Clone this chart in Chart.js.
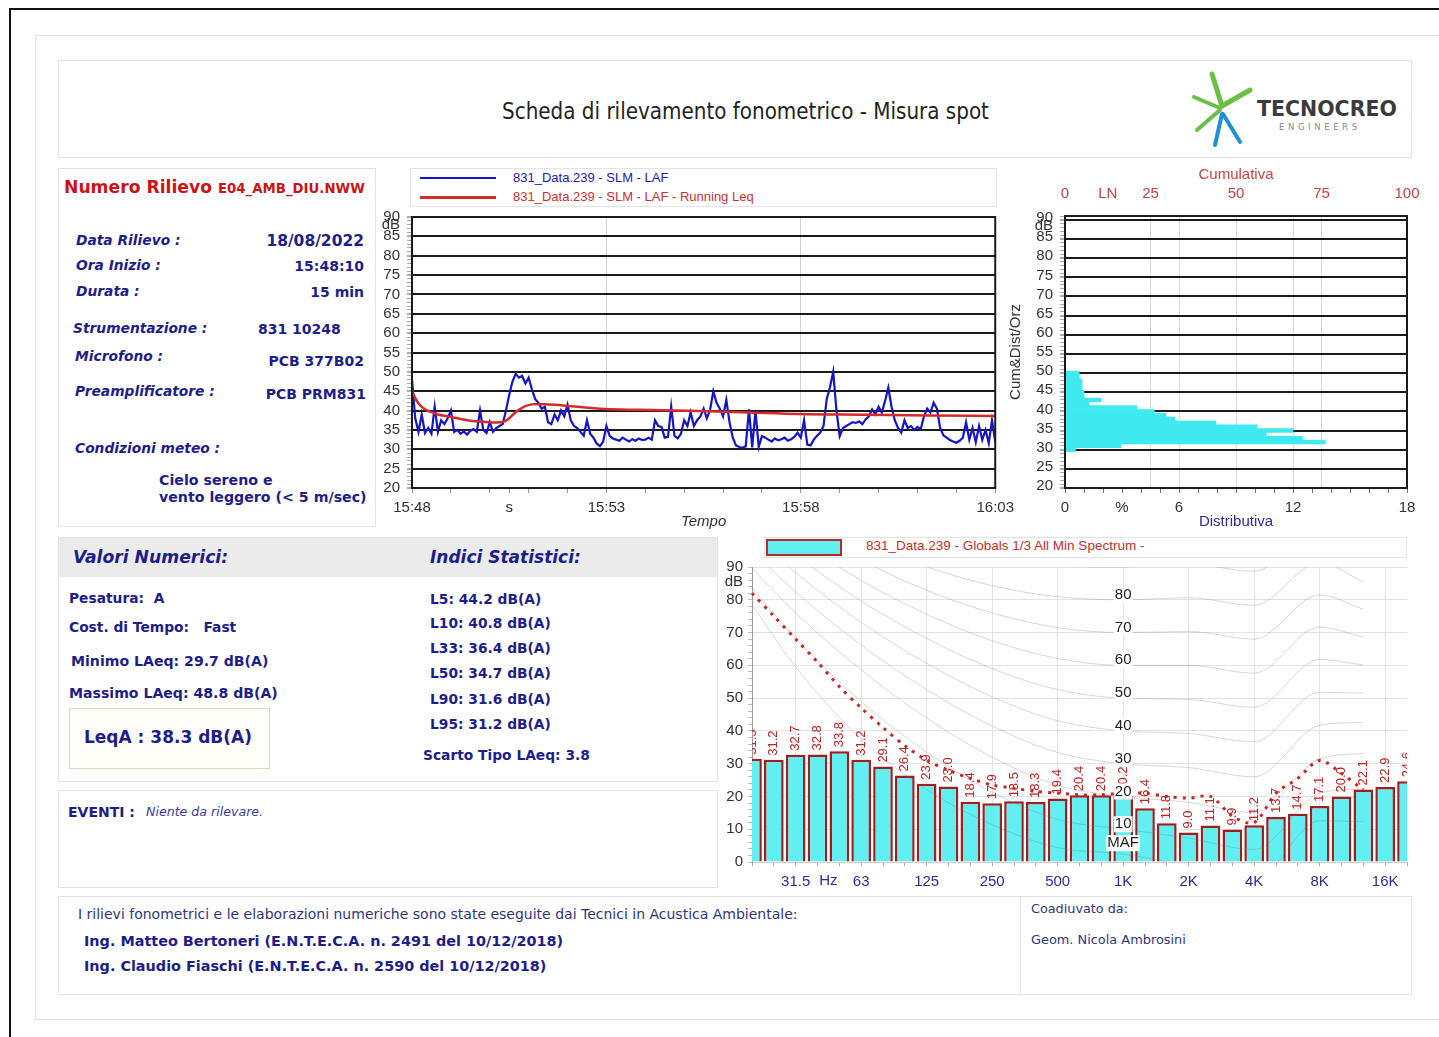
<!DOCTYPE html>
<html lang="it">
<head>
<meta charset="utf-8">
<title>Scheda di rilevamento fonometrico - Misura spot</title>
<script src="https://cdn.jsdelivr.net/npm/chart.js@4.4.1/dist/chart.umd.min.js"></script>
<style>
  body { margin: 0; background: #fff; }
  #sheet { position: relative; width: 1439px; height: 1037px; overflow: hidden; background: #fff;
           font-family: "DejaVu Sans", Verdana, sans-serif; color: #1d1d8c; }
  #sheet div { position: absolute; }
  .panel { border: 1px solid #e3e3e3; box-sizing: border-box; }
  .t { white-space: pre; line-height: 1; }
  .lbl { font-weight: bold; font-style: italic; font-size: 13.8px; }
  .val { font-weight: bold; font-size: 14px; }
  .item { font-weight: bold; font-size: 13.8px; }
  .chartText { font-family: "Liberation Sans", Arial, sans-serif; }
</style>
</head>
<body>
<div id="sheet">
  <!-- page frame -->
  <div style="left:10px;top:8px;width:1429px;height:2px;background:#111"></div>
  <div style="left:9px;top:8px;width:2px;height:1029px;background:#111"></div>
  <div class="panel" style="left:35px;top:35px;width:1410px;height:985px"></div>

  <!-- header -->
  <div class="panel" style="left:58px;top:60px;width:1354px;height:98px"></div>
  <div class="t" style="left:502px;top:100px;font-family:'DejaVu Sans Condensed','DejaVu Sans',sans-serif;font-size:22.2px;color:#222">Scheda di rilevamento fonometrico - Misura spot</div>
  <svg style="position:absolute;left:1188px;top:70px" width="66" height="80" viewBox="0 0 66 80">
    <g stroke-linecap="round" fill="none">
      <line x1="34" y1="36" x2="24" y2="4" stroke="#6cbf45" stroke-width="5"/>
      <line x1="34" y1="36" x2="62" y2="20" stroke="#6cbf45" stroke-width="5"/>
      <line x1="32" y1="38" x2="6" y2="27" stroke="#6cbf45" stroke-width="4"/>
      <line x1="32" y1="40" x2="9" y2="60" stroke="#6cbf45" stroke-width="4"/>
      <line x1="34" y1="44" x2="27" y2="75" stroke="#1f8fd8" stroke-width="4"/>
      <line x1="35" y1="44" x2="52" y2="72" stroke="#1f8fd8" stroke-width="4"/>
    </g>
  </svg>
  <div class="t" style="left:1257px;top:99px;font-weight:bold;font-size:20.5px;color:#3b3b3b">TECNOCREO</div>
  <div class="t" style="left:1279px;top:123px;font-size:8.5px;letter-spacing:3.6px;color:#8a8a8a">ENGINEERS</div>

  <!-- survey details -->
  <div class="panel" style="left:58px;top:168px;width:318px;height:359px"></div>
  <div class="t" style="left:64px;top:179px;font-weight:bold;font-size:17.2px;color:#cc1414">Numero Rilievo <span style="font-size:13.3px">E04_AMB_DIU.NWW</span></div>
  <div class="t lbl" style="left:76px;top:234px">Data Rilievo :</div>
  <div class="t val" style="right:1075px;top:234px;font-size:15.5px">18/08/2022</div>
  <div class="t lbl" style="left:76px;top:259px">Ora Inizio :</div>
  <div class="t val" style="right:1075px;top:259px">15:48:10</div>
  <div class="t lbl" style="left:76px;top:285px">Durata :</div>
  <div class="t val" style="right:1075px;top:285px">15 min</div>
  <div class="t lbl" style="left:73px;top:322px">Strumentazione :</div>
  <div class="t val" style="left:258px;top:322px">831 10248</div>
  <div class="t lbl" style="left:75px;top:350px">Microfono :</div>
  <div class="t val" style="right:1075px;top:354px">PCB 377B02</div>
  <div class="t lbl" style="left:75px;top:385px">Preamplificatore :</div>
  <div class="t val" style="right:1073px;top:387px">PCB PRM831</div>
  <div class="t lbl" style="left:75px;top:442px">Condizioni meteo :</div>
  <div class="t item" style="left:159px;top:473px;font-size:14.2px">Cielo sereno e</div>
  <div class="t item" style="left:159px;top:490px;font-size:14.2px">vento leggero (&lt; 5 m/sec)</div>

  <!-- time history legend -->
  <div class="panel" style="left:410px;top:168px;width:587px;height:39px"></div>
  <div style="left:420px;top:177px;width:76px;height:2px;background:#1414c8"></div>
  <div class="t chartText" style="left:513px;top:171px;font-size:13px;color:#2020b8">831_Data.239 - SLM - LAF</div>
  <div style="left:420px;top:196px;width:76px;height:3px;background:#d42a2a"></div>
  <div class="t chartText" style="left:513px;top:190px;font-size:13px;color:#cc3030">831_Data.239 - SLM - LAF - Running Leq</div>

  <!-- numeric values -->
  <div class="panel" style="left:58px;top:537px;width:660px;height:245px"></div>
  <div style="left:59px;top:538px;width:658px;height:39px;background:#ebebeb"></div>
  <div class="t" style="left:73px;top:549px;font-weight:bold;font-style:italic;font-size:17.2px">Valori Numerici:</div>
  <div class="t" style="left:430px;top:549px;font-weight:bold;font-style:italic;font-size:17px">Indici Statistici:</div>
  <div class="t item" style="left:69px;top:592px">Pesatura:  A</div>
  <div class="t item" style="left:69px;top:621px">Cost. di Tempo:   Fast</div>
  <div class="t item" style="left:71px;top:654px;font-size:14.1px">Minimo LAeq: 29.7 dB(A)</div>
  <div class="t item" style="left:69px;top:686px;font-size:14.1px">Massimo LAeq: 48.8 dB(A)</div>
  <div style="left:69px;top:708px;width:201px;height:61px;border:1px solid #e2d6bf;background:#fffdf8;box-sizing:border-box"></div>
  <div class="t" style="left:84px;top:729px;font-weight:bold;font-size:17px">LeqA : 38.3 dB(A)</div>
  <div class="t item" style="left:430px;top:593px">L5: 44.2 dB(A)</div>
  <div class="t item" style="left:430px;top:617px">L10: 40.8 dB(A)</div>
  <div class="t item" style="left:430px;top:642px">L33: 36.4 dB(A)</div>
  <div class="t item" style="left:430px;top:667px">L50: 34.7 dB(A)</div>
  <div class="t item" style="left:430px;top:693px">L90: 31.6 dB(A)</div>
  <div class="t item" style="left:430px;top:718px">L95: 31.2 dB(A)</div>
  <div class="t item" style="left:423px;top:749px">Scarto Tipo LAeq: 3.8</div>

  <!-- events -->
  <div class="panel" style="left:58px;top:790px;width:660px;height:98px"></div>
  <div class="t item" style="left:68px;top:805px;font-size:14px">EVENTI :</div>
  <div class="t" style="left:146px;top:806px;font-style:italic;font-size:12.6px;color:#3a3aa0">Niente da rilevare.</div>

  <!-- footer -->
  <div class="panel" style="left:58px;top:896px;width:1354px;height:99px"></div>
  <div style="left:1020px;top:896px;width:1px;height:99px;background:#e3e3e3"></div>
  <div class="t" style="left:78px;top:907px;font-size:14px;color:#2f3580">I rilievi fonometrici e le elaborazioni numeriche sono state eseguite dai Tecnici in Acustica Ambientale:</div>
  <div class="t" style="left:84px;top:934px;font-weight:bold;font-size:14.4px">Ing. Matteo Bertoneri (E.N.T.E.C.A. n. 2491 del 10/12/2018)</div>
  <div class="t" style="left:84px;top:959px;font-weight:bold;font-size:14.4px">Ing. Claudio Fiaschi (E.N.T.E.C.A. n. 2590 del 10/12/2018)</div>
  <div class="t" style="left:1031px;top:903px;font-size:12.8px;color:#2f3580">Coadiuvato da:</div>
  <div class="t" style="left:1031px;top:934px;font-size:12.9px;color:#2f3580">Geom. Nicola Ambrosini</div>

  <!-- spectrum legend -->
  <div class="panel" style="left:764px;top:537px;width:643px;height:21px"></div>
  <div style="left:766px;top:539px;width:76px;height:17px;box-sizing:border-box;border:2px solid #b52a2a;background:#61efef"></div>
  <div class="t chartText" style="left:866px;top:539px;font-size:13.5px;color:#c0302a">831_Data.239 - Globals 1/3 All Min Spectrum -</div>

  <!-- charts -->
  <div style="left:355px;top:201px;width:665px;height:335px"><canvas id="timeChart"></canvas></div>
  <div style="left:1000px;top:150px;width:439px;height:386px"><canvas id="distChart"></canvas></div>
  <div style="left:700px;top:553px;width:739px;height:347px"><canvas id="specChart"></canvas></div>
</div>

<script>
// LAF time history, one value every 5 s from 15:48:10 (dB)
const lafStep = 5;
const lafValues = [
  48, 38, 34.5, 39, 34.2, 35.5, 34, 41, 34.5, 37.5,
  36.5, 38, 40, 34.5, 35, 34, 34.6, 33.8, 34.8, 35.2,
  34.5, 40, 35, 34.2, 37, 34.5, 35.5, 36, 36.5, 40,
  44, 47.5, 49.5, 48.5, 49, 47, 48.5, 45.5, 43, 42,
  40.5, 41, 37, 36.5, 39, 37.5, 40, 38.5, 41.5, 37.5,
  36, 35.5, 34.5, 33.5, 37.5, 34, 33, 31.5, 30.8, 32,
  36, 33.5, 32.8, 32.5, 32.2, 33, 32.5, 32, 32.6, 32.2,
  32.8, 32.4, 32.5, 33, 32.5, 37.5, 36, 35.8, 33, 33.2,
  41, 33.5, 32.8, 34, 37.5, 36, 39.5, 36, 37.5, 38.5,
  40.5, 38, 40.2, 45, 42, 40.5, 38.5, 42.8, 37, 33,
  31, 30.6, 30.4, 30.8, 40.3, 30.5, 40, 30.6, 33.4, 33,
  32.5, 32, 32.8, 32.3, 32.6, 33, 32.2, 32.6, 33.2, 34.3,
  33, 37.5, 31.2, 31, 32.5, 33.5, 34.3, 36, 43, 46,
  50, 40, 33.4, 35.5, 36, 36.5, 37, 36.8, 37.2, 36.5,
  37.7, 38.5, 40.3, 39, 41, 39.5, 42.5, 45.9, 41, 37.5,
  35.5, 34.3, 37.5, 35.5, 36, 35, 35.8, 35.2, 38.5, 40.5,
  39.5, 42, 40.5, 35.5, 33.6, 33, 32.4, 32, 31.7, 32.2,
  33, 37, 32.5, 35.5, 31.8, 36, 32.4, 35, 31.6, 37.5,
  32
];

// running Leq (seconds from start, dB)
const leqTimes  = [0, 5, 10, 20, 30, 40, 55, 70, 90, 110, 130, 143, 150, 158, 166, 174, 185, 195, 220, 246, 297, 350, 443, 520, 597, 700, 800, 900];
const leqValues = [45, 43.2, 41.8, 40.3, 39.6, 39, 38.5, 38, 37.4, 37.1, 36.9, 37.2, 38, 39.3, 40.3, 41.1, 41.6, 41.7, 41.5, 41.1, 40.4, 40.2, 39.9, 39.5, 39.1, 38.9, 38.7, 38.6];

const timeMinorSeconds = [0, 60, 120, 150, 180, 240, 300, 360, 420, 480, 540, 600, 660, 720, 780, 840, 900];
const timeTickSeconds  = [0, 150, 300, 600, 900];
const timeTickText     = ['15:48', 's', '15:53', '15:58', '16:03'];

// level distribution, 1 dB classes (class centre, % of time)
const histLevels  = [29.5, 30.5, 31.5, 32.5, 33.5, 34.5, 35.5, 36.5, 37.5, 38.5, 39.5, 40.5, 41.5, 42.5, 43.5, 44.5, 45.5, 46.5, 47.5, 48.5, 49.5];
const histPercent = [0.55, 2.95, 13.7, 12.5, 10.6, 12.0, 10.1, 7.95, 5.8, 5.3, 4.7, 3.8, 1.25, 1.9, 1.0, 1.0, 0.9, 0.9, 0.9, 0.75, 0.75];
const distTickValues = [0, 3, 6, 12, 18];
const distTickText   = ['0', '%', '6', '12', '18'];
const cumTickValues  = [0, 12.5, 25, 50, 75, 100];
const cumTickText    = ['0', 'LN', '25', '50', '75', '100'];

// 1/3 octave minimum spectrum
const bandLabels = ['20', '25', '31.5', '40', '50', '63', '80', '100', '125', '160', '200', '250', '315', '400', '500', '630', '800',
                    '1K', '1.25K', '1.6K', '2K', '2.5K', '3.15K', '4K', '5K', '6.3K', '8K', '10K', '12.5K', '16K', '20K'];
const spectrumValues = [31.5, 31.2, 32.7, 32.8, 33.8, 31.2, 29.1, 26.4, 23.9, 23.0, 18.4, 17.9, 18.5, 18.3, 19.4, 20.4, 20.4,
                        20.2, 16.4, 11.8, 9.0, 11.1, 9.9, 11.2, 13.7, 14.7, 17.1, 20.0, 22.1, 22.9, 24.6];
const axisBandLabels = ['31.5', '63', '125', '250', '500', '1K', '2K', '4K', '8K', '16K'];
// dotted reference curve, 20 Hz .. 12.5 kHz
const thresholdValues = [82, 75, 68, 61, 53.5, 47, 41, 35.5, 31, 28, 25.5, 23.5, 22.5, 21.5, 21, 20.5, 20.5,
                         21, 21, 20, 19.5, 20, 14, 12, 21, 25.5, 31, 27, 22];

// equal loudness contours
const contourBands  = ['20', '31.5', '63', '125', '250', '500', '1K', '2K', '4K', '8K', '12.5K'];
const contourLevels = ['MAF', '10', '20', '30', '40', '50', '60', '70', '80', '90'];
const contourValues = [
  [78.5, 59.5, 37.5, 22.1, 11.4, 4.4, 2.4, -1.3, -5.4, 12.6, 12.3],
  [83.7, 68.2, 49.0, 33.5, 21.3, 13.0, 10, 7.3, 3.8, 21.0, 22.3],
  [89.6, 76.0, 58.6, 43.9, 32.0, 23.4, 20, 18.2, 15.1, 31.5, 33.1],
  [94.9, 82.4, 66.2, 52.6, 41.5, 33.4, 30, 28.8, 26.0, 41.7, 42.6],
  [99.9, 88.2, 73.1, 60.6, 50.4, 43.1, 40, 39.2, 36.7, 51.8, 51.5],
  [104.7, 93.7, 79.6, 68.2, 59.0, 52.6, 50, 49.6, 47.2, 61.8, 60.1],
  [109.5, 99.0, 85.9, 75.6, 67.5, 62.1, 60, 60.0, 57.6, 71.7, 68.6],
  [114.3, 104.2, 92.2, 82.9, 76.0, 71.5, 70, 70.3, 68.0, 81.5, 77.1],
  [119.1, 109.4, 98.4, 90.1, 84.3, 80.9, 80, 80.6, 78.3, 91.4, 85.4],
  [124.0, 114.6, 104.6, 97.3, 92.7, 90.2, 90, 90.9, 88.7, 101.2, 94.0]
];

Chart.defaults.font.family = '"Liberation Sans", Arial, sans-serif';
Chart.defaults.font.size = 15;
Chart.defaults.color = '#333';
Chart.defaults.animation = false;
Chart.defaults.plugins.legend.display = false;
Chart.defaults.plugins.tooltip.enabled = false;

const CLEAR = 'rgba(0,0,0,0)';

function stepTicks(from, to, step) {
  const out = [];
  for (let v = from; v <= to; v += step) out.push({ value: v });
  return out;
}

// box around the plot area
const plotFrame = {
  id: 'plotFrame',
  afterDatasetsDraw(chart, args, opts) {
    const { ctx, chartArea: a } = chart;
    ctx.save();
    ctx.strokeStyle = opts.color;
    ctx.lineWidth = opts.width;
    ctx.strokeRect(a.left, a.top, a.right - a.left, a.bottom - a.top);
    ctx.restore();
  }
};

// "dB" written under the top tick of the level axis
const dbUnit = {
  id: 'dbUnit',
  afterDraw(chart, args, opts) {
    const y = chart.scales.y;
    const ctx = chart.ctx;
    ctx.save();
    ctx.font = '15px "Liberation Sans", Arial, sans-serif';
    ctx.fillStyle = '#333';
    ctx.textAlign = 'right';
    ctx.textBaseline = 'middle';
    ctx.fillText('dB', y.right - opts.gap, y.getPixelForValue(opts.value));
    ctx.restore();
  }
};

// ---- time history ----
new Chart(document.getElementById('timeChart'), {
  type: 'line',
  data: {
    datasets: [
      {
        label: '831_Data.239 - SLM - LAF',
        data: lafValues.map((v, i) => ({ x: i * lafStep, y: v })),
        borderColor: '#1414c8',
        borderWidth: 2.2,
        pointRadius: 0,
        order: 2
      },
      {
        label: '831_Data.239 - SLM - LAF - Running Leq',
        data: leqTimes.map((t, i) => ({ x: t, y: leqValues[i] })),
        borderColor: '#d42a2a',
        borderWidth: 2.5,
        pointRadius: 0,
        cubicInterpolationMode: 'monotone',
        order: 1
      }
    ]
  },
  options: {
    responsive: true,
    maintainAspectRatio: false,
    layout: { padding: { top: 5, right: 23, left: 0, bottom: 0 } },
    scales: {
      x: {
        type: 'linear', min: 0, max: 900,
        afterBuildTicks: s => { s.ticks = timeMinorSeconds.map(v => ({ value: v })); },
        afterFit: s => { s.height = 48; },
        ticks: {
          autoSkip: false, maxRotation: 0, padding: 6,
          callback: v => { const k = timeTickSeconds.indexOf(v); return k < 0 ? '' : timeTickText[k]; }
        },
        grid: {
          color: c => (c.tick && (c.tick.value === 300 || c.tick.value === 600)) ? '#d2d2d2' : CLEAR,
          tickColor: '#999', tickLength: 5
        },
        border: { display: false },
        title: { display: true, text: 'Tempo', font: { style: 'italic', size: 15 }, padding: { top: 0, bottom: 5 } }
      },
      y: {
        type: 'linear', min: 20, max: 90,
        afterBuildTicks: s => { s.ticks = stepTicks(20, 90, 1); },
        afterFit: s => { s.width = 57; },
        ticks: { autoSkip: false, padding: 7, callback: v => v % 5 === 0 ? String(v) : '' },
        grid: {
          color: c => (c.tick && c.tick.value % 5 === 0) ? '#1a1a1a' : CLEAR,
          lineWidth: c => (c.tick && c.tick.value % 5 === 0) ? 2 : 1,
          tickColor: '#aaa', tickLength: 5
        },
        border: { display: false }
      }
    },
    plugins: { plotFrame: { color: '#1a1a1a', width: 2 }, dbUnit: { value: 88, gap: 12 } }
  },
  plugins: [plotFrame, dbUnit]
});

// ---- level distribution ----
new Chart(document.getElementById('distChart'), {
  type: 'bar',
  data: {
    datasets: [{
      label: 'Distributiva',
      data: histLevels.map((l, i) => ({ x: histPercent[i], y: l })),
      backgroundColor: '#3fe9f0',
      borderWidth: 0,
      barPercentage: 1,
      categoryPercentage: 1,
      clip: 0
    }]
  },
  options: {
    indexAxis: 'y',
    responsive: true,
    maintainAspectRatio: false,
    layout: { padding: { top: 0, right: 32, left: 0, bottom: 0 } },
    scales: {
      x: {
        type: 'linear', position: 'bottom', min: 0, max: 18,
        afterBuildTicks: s => { s.ticks = stepTicks(0, 18, 1); },
        afterFit: s => { s.height = 48; },
        ticks: {
          autoSkip: false, maxRotation: 0, padding: 6,
          callback: v => { const k = distTickValues.indexOf(v); return k < 0 ? '' : distTickText[k]; }
        },
        grid: {
          color: c => (c.tick && (c.tick.value === 6 || c.tick.value === 12)) ? '#d9d9d9' : CLEAR,
          tickColor: '#6a6ac4', tickLength: 5
        },
        border: { display: false },
        title: { display: true, text: 'Distributiva', color: '#2c2ca0', font: { size: 15 }, padding: { top: 0, bottom: 5 } }
      },
      x2: {
        type: 'linear', axis: 'x', position: 'top', min: 0, max: 100,
        afterBuildTicks: s => { s.ticks = cumTickValues.map(v => ({ value: v })); },
        afterFit: s => { s.height = 66; },
        ticks: {
          autoSkip: false, maxRotation: 0, padding: 13, color: '#c84040',
          callback: v => { const k = cumTickValues.indexOf(v); return k < 0 ? '' : cumTickText[k]; }
        },
        grid: {
          color: c => (c.tick && [25, 50, 75].includes(c.tick.value)) ? '#d9d9d9' : CLEAR,
          drawTicks: false
        },
        border: { display: false },
        title: { display: true, text: 'Cumulativa', color: '#c84040', font: { size: 15 }, padding: { top: 16, bottom: 0 } }
      },
      y: {
        type: 'linear', min: 20, max: 90,
        afterBuildTicks: s => { s.ticks = stepTicks(20, 90, 1); },
        afterFit: s => { s.width = 65; },
        ticks: { autoSkip: false, padding: 7, callback: v => v % 5 === 0 ? String(v) : '' },
        grid: {
          color: c => (c.tick && c.tick.value % 5 === 0) ? '#1a1a1a' : CLEAR,
          lineWidth: c => (c.tick && c.tick.value % 5 === 0) ? 2 : 1,
          tickColor: '#aaa', tickLength: 5
        },
        border: { display: false },
        title: { display: true, text: 'Cum&Dist/Orz', font: { size: 15 }, padding: 7 }
      }
    },
    plugins: { plotFrame: { color: '#1a1a1a', width: 2 }, dbUnit: { value: 88, gap: 12 } }
  },
  plugins: [plotFrame, dbUnit]
});

// ---- 1/3 octave spectrum ----
// band values written vertically above each bar
const barValues = {
  id: 'barValues',
  afterDatasetsDraw(chart) {
    const { ctx, chartArea: a } = chart;
    const meta = chart.getDatasetMeta(0);
    ctx.save();
    ctx.beginPath();
    ctx.rect(a.left, a.top, a.right - a.left, a.bottom - a.top);
    ctx.clip();
    ctx.font = '13px "Liberation Sans", Arial, sans-serif';
    ctx.fillStyle = '#c42222';
    ctx.textAlign = 'left';
    ctx.textBaseline = 'middle';
    meta.data.forEach((bar, i) => {
      ctx.save();
      ctx.translate(bar.x, bar.y - 4);
      ctx.rotate(-Math.PI / 2);
      ctx.fillText(spectrumValues[i].toFixed(1), 0, 0);
      ctx.restore();
    });
    ctx.restore();
  }
};

// phon values printed on the 1 kHz line, plus the Hz unit on the axis
const contourLabels = {
  id: 'contourLabels',
  afterDatasetsDraw(chart) {
    const { ctx } = chart;
    const xs = chart.scales.x, ys = chart.scales.y;
    const x = xs.getPixelForValue(bandLabels.indexOf('1K'));
    const k1 = contourBands.indexOf('1K');
    ctx.save();
    ctx.font = '15px "Liberation Sans", Arial, sans-serif';
    ctx.textAlign = 'center';
    ctx.textBaseline = 'middle';
    contourLevels.forEach((name, k) => {
      const v = contourValues[k][k1];
      if (v > 85) return;
      const y = ys.getPixelForValue(v) - (name === 'MAF' ? 11 : 5);
      const w = ctx.measureText(name).width;
      ctx.fillStyle = '#fff';
      ctx.fillRect(x - w / 2 - 1, y - 8, w + 2, 16);
      ctx.fillStyle = '#222';
      ctx.fillText(name, x, y);
    });
    ctx.fillStyle = '#2d2d9a';
    ctx.textBaseline = 'top';
    ctx.fillText('Hz', xs.getPixelForValue(3.5), xs.top + 11);
    ctx.restore();
  }
};

const contourSets = contourLevels.map((name, k) => ({
  type: 'line',
  label: name,
  data: contourBands.map((b, i) => ({ x: b, y: contourValues[k][i] })),
  borderColor: 'rgba(110,110,110,0.28)',
  borderWidth: 1,
  pointRadius: 0,
  cubicInterpolationMode: 'monotone',
  order: 2
}));

new Chart(document.getElementById('specChart'), {
  data: {
    labels: bandLabels,
    datasets: [
      {
        type: 'bar',
        label: '831_Data.239 - Globals 1/3 All Min Spectrum',
        data: spectrumValues,
        backgroundColor: '#62eff2',
        borderColor: '#9f1e1e',
        borderWidth: 2.5,
        barPercentage: 0.9,
        categoryPercentage: 1,
        clip: 0,
        order: 3
      },
      ...contourSets,
      {
        type: 'line',
        label: 'Soglia',
        data: thresholdValues,
        borderColor: '#cc2424',
        borderWidth: 3,
        borderDash: [3, 6],
        pointRadius: 0,
        tension: 0.3,
        order: 1
      }
    ]
  },
  options: {
    responsive: true,
    maintainAspectRatio: false,
    layout: { padding: { top: 0, right: 32, left: 0, bottom: 0 } },
    scales: {
      x: {
        type: 'category', offset: false,
        afterFit: s => { s.height = 38; },
        ticks: {
          autoSkip: false, maxRotation: 0, padding: 7, color: '#2d2d9a',
          callback: v => axisBandLabels.includes(bandLabels[v]) ? bandLabels[v] : ''
        },
        grid: {
          offset: false,
          color: c => (c.tick && axisBandLabels.includes(bandLabels[c.tick.value])) ? '#e3e3e3' : CLEAR,
          tickColor: '#aaa', tickLength: 4
        },
        border: { color: '#cfcfcf' }
      },
      y: {
        type: 'linear', min: 0, max: 90,
        afterBuildTicks: s => { s.ticks = stepTicks(0, 90, 2); },
        afterFit: s => { s.width = 52; },
        ticks: { autoSkip: false, padding: 5, callback: v => v % 10 === 0 ? String(v) : '' },
        grid: {
          color: c => (c.tick && c.tick.value % 10 === 0) ? '#e3e3e3' : CLEAR,
          tickColor: '#bbb', tickLength: 4
        },
        border: { color: '#9a9a9a' }
      }
    },
    plugins: { dbUnit: { value: 85.5, gap: 9 } }
  },
  plugins: [barValues, contourLabels, dbUnit]
});
</script>
</body>
</html>
